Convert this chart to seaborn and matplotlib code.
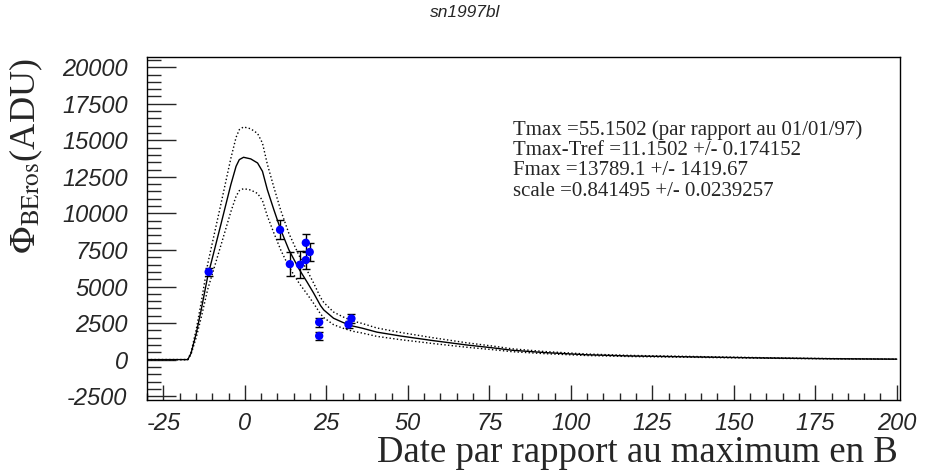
import matplotlib
matplotlib.use("Agg")
import matplotlib.pyplot as plt
from matplotlib.ticker import MultipleLocator, FixedLocator
import seaborn as sns
import pandas as pd

# light curve template
curve_x = [-30, -17.5, -16.5, -14.9, -13.4, -11.4, -7.3, -4.3, -2.7, -1.7,
           -0.4, 1.8, 3.9, 5.4, 6.9, 8.9, 11.0, 13.5, 16.6, 19.1,
           21.1, 23.2, 24.2, 27.2, 30, 33, 36, 40.5, 47.6, 57.7,
           67.9, 77, 82, 92, 105, 118, 136, 160, 180, 200]
curve_y = [0, 0, 440, 1810, 3400, 5690, 9295, 11970, 13220, 13680,
           13840, 13730, 13450, 12880, 11620, 10250, 8880, 7510, 6200, 5300,
           4550, 3700, 3400, 2830, 2550, 2300, 2150, 1880, 1620, 1300,
           1005, 780, 640, 480, 330, 250, 190, 110, 60, 30]
upper_y = [0, 0, 506, 2082, 3910, 6544, 10689, 13766, 15203, 15732,
           15916, 15790, 15468, 14812, 13363, 11788, 10212, 8637, 7130, 6095,
           5233, 4255, 3910, 3255, 2933, 2645, 2473, 2162, 1863, 1495,
           1156, 897, 736, 552, 380, 288, 219, 127, 69, 35]
lower_y = [0, 0, 372, 1529, 2873, 4808, 7854, 10115, 11171, 11560,
           11695, 11602, 11365, 10884, 9819, 8661, 7504, 6346, 5239, 4479,
           3845, 3127, 2873, 2391, 2155, 1944, 1817, 1589, 1369, 1099,
           849, 659, 541, 406, 279, 211, 161, 93, 51, 25]

# measurements
obs_x = [-11.1, 10.8, 13.8, 16.9, 18.7, 18.7, 19.9, 22.8, 22.8, 31.8, 32.7]
obs_y = [6000, 8880, 6530, 6490, 7990, 6810, 7360, 2560, 1620, 2400, 2810]
obs_err = [250, 640, 830, 940, 600, 600, 630, 300, 280, 250, 300]

y_ticks = [-2500, 0, 2500, 5000, 7500, 10000, 12500, 15000, 17500, 20000]
x_ticks = [-25, 0, 25, 50, 75, 100, 125, 150, 175, 200]

info_lines = ["Tmax =55.1502 (par rapport au 01/01/97)",
              "Tmax-Tref =11.1502 +/- 0.174152",
              "Fmax =13789.1 +/- 1419.67",
              "scale =0.841495 +/- 0.0239257"]

sns.set_style("ticks")
plt.rcParams['font.family'] = ['Liberation Sans', 'DejaVu Sans']
plt.rcParams['mathtext.fontset'] = 'stix'

curve = pd.DataFrame({'x': curve_x, 'y': curve_y, 'up': upper_y, 'lo': lower_y})
obs = pd.DataFrame({'x': obs_x, 'y': obs_y, 'err': obs_err})

fig = plt.figure(figsize=(9.25, 4.75), dpi=100)
ax = fig.add_axes([0.159, 0.158, 0.814, 0.722])

sns.lineplot(data=curve, x='x', y='y', color='black', lw=1, ax=ax, sort=False)
sns.lineplot(data=curve, x='x', y='up', color='black', lw=1, ls=':', ax=ax, sort=False)
sns.lineplot(data=curve, x='x', y='lo', color='black', lw=1, ls=':', ax=ax, sort=False)
ax.errorbar(obs['x'], obs['y'], yerr=obs['err'], fmt='none', ecolor='black',
            elinewidth=1, capsize=3, capthick=1)
sns.scatterplot(data=obs, x='x', y='y', color='#0000ff', s=36, edgecolor='none',
                ax=ax, zorder=5)

ax.set_xlim(-30, 201)
ax.set_ylim(-2760, 20700)
ax.xaxis.set_major_locator(FixedLocator(x_ticks))
ax.yaxis.set_major_locator(FixedLocator(y_ticks))
ax.xaxis.set_minor_locator(MultipleLocator(5))
ax.yaxis.set_minor_locator(MultipleLocator(500))
ax.set_xticklabels([str(t) for t in x_ticks])
ax.set_yticklabels([str(t) for t in y_ticks])

ax.tick_params(axis='y', which='major', direction='in', length=21, width=1,
               pad=14, labelsize=17, right=False)
ax.tick_params(axis='y', which='minor', direction='in', length=10, width=1, right=False)
ax.tick_params(axis='x', which='major', direction='in', length=11, width=1,
               pad=9, labelsize=17, top=False)
ax.tick_params(axis='x', which='minor', direction='in', length=5, width=1, top=False)
for lab in ax.get_xticklabels() + ax.get_yticklabels():
    lab.set_fontstyle('italic')
for sp in ax.spines.values():
    sp.set_visible(True)
    sp.set_linewidth(1)
    sp.set_color('black')

ax.set_xlabel('')
ax.set_ylabel('')

fig.text(0.971, 0.027, 'Date par rapport au maximum en B', family='Liberation Serif',
         fontsize=26.5, ha='right', va='baseline')
fig.text(0.029, 0.877, r'$\Phi_{\mathrm{BEros}}$(ADU)', family='Liberation Serif',
         fontsize=26, rotation=90, ha='center', va='top')
fig.text(0.503, 0.99, 'sn1997bl', fontsize=12.5, style='italic', ha='center', va='top')
ax.text(0.486, 0.815, "\n".join(info_lines), transform=ax.transAxes,
        family='Liberation Serif', fontsize=15, va='top', ha='left', linespacing=1.08)

fig.savefig('out.png', dpi=100)
